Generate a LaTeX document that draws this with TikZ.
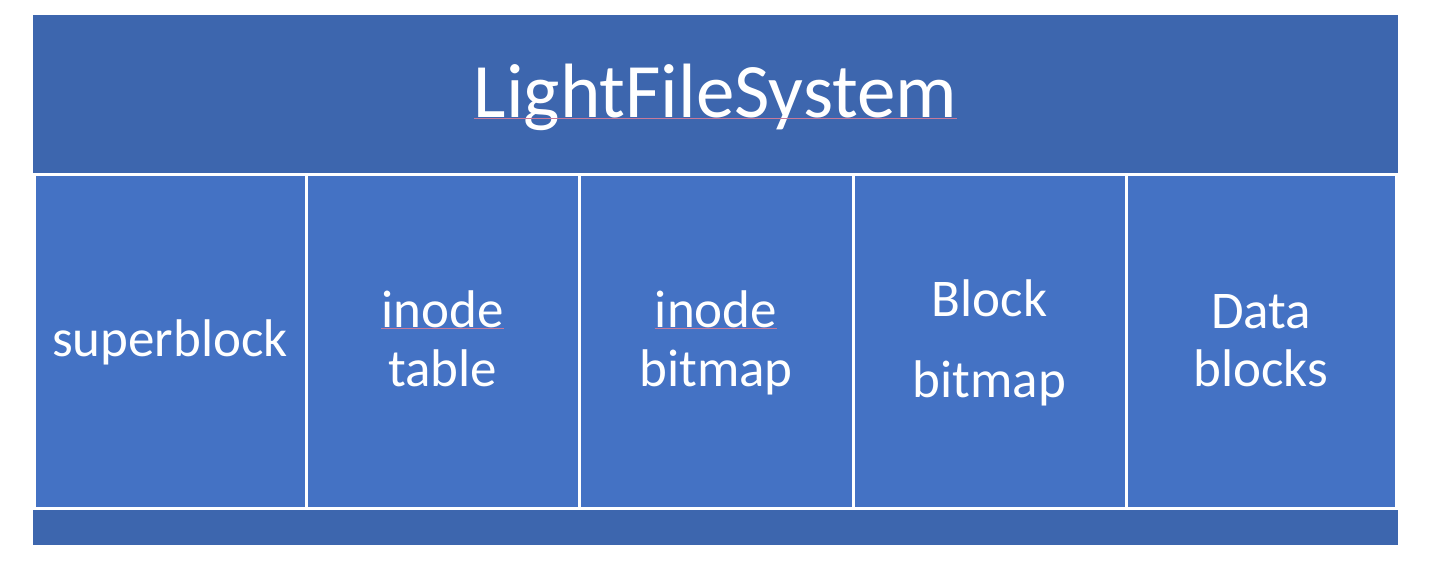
\documentclass[tikz,border=0pt]{standalone}
\usepackage{fontspec}
\setmainfont{Carlito}
\definecolor{hdrblue}{HTML}{3D66AE}
\definecolor{boxblue}{HTML}{4472C4}
\definecolor{squig}{HTML}{C77A9A}
\begin{document}
\begin{tikzpicture}[x=1pt,y=-1pt,
  cell/.style={draw=white,line width=3pt,fill=boxblue},
  lbl/.style={anchor=base,inner sep=0pt,text=white,font=\fontsize{53}{60}\selectfont},
  ttl/.style={anchor=base,inner sep=0pt,text=white,font=\fontsize{77}{90}\selectfont},
  spell/.style={draw=squig,line width=0.8pt}]
\useasboundingbox (0,0) rectangle (1447,562);
\fill[hdrblue] (33,15) rectangle (1398,545);
\node[ttl] (title) at (715.5,117) {LightFileSystem};
\draw[spell] ([yshift=-1.5pt]title.base west) -- ([yshift=-1.5pt]title.base east);
% cells
\path[cell] (34.5,174) rectangle (306,508);
\path[cell] (306,174) rectangle (579,508);
\path[cell] (579,174) rectangle (853,508);
\path[cell] (853,174) rectangle (1126,508);
\path[cell] (1126,174) rectangle (1396.5,508);
% labels
\node[lbl] (sb) at (170,356) {superblock};
\node[lbl] (it1) at (442.5,327) {inode};
\node[lbl] (it2) at (442.5,386) {table};
\node[lbl] (ib1) at (716,327) {inode};
\node[lbl] (ib2) at (716,386) {bitmap};
\node[lbl] (bb1) at (989.5,316) {Block};
\node[lbl] (bb2) at (989.5,397) {bitmap};
\node[lbl] (db1) at (1261,328) {Data};
\node[lbl] (db2) at (1261,386) {blocks};
\draw[spell] ([yshift=-1.5pt]it1.base west) -- ([yshift=-1.5pt]it1.base east);
\draw[spell] ([yshift=-1.5pt]ib1.base west) -- ([yshift=-1.5pt]ib1.base east);
\end{tikzpicture}
\end{document}
